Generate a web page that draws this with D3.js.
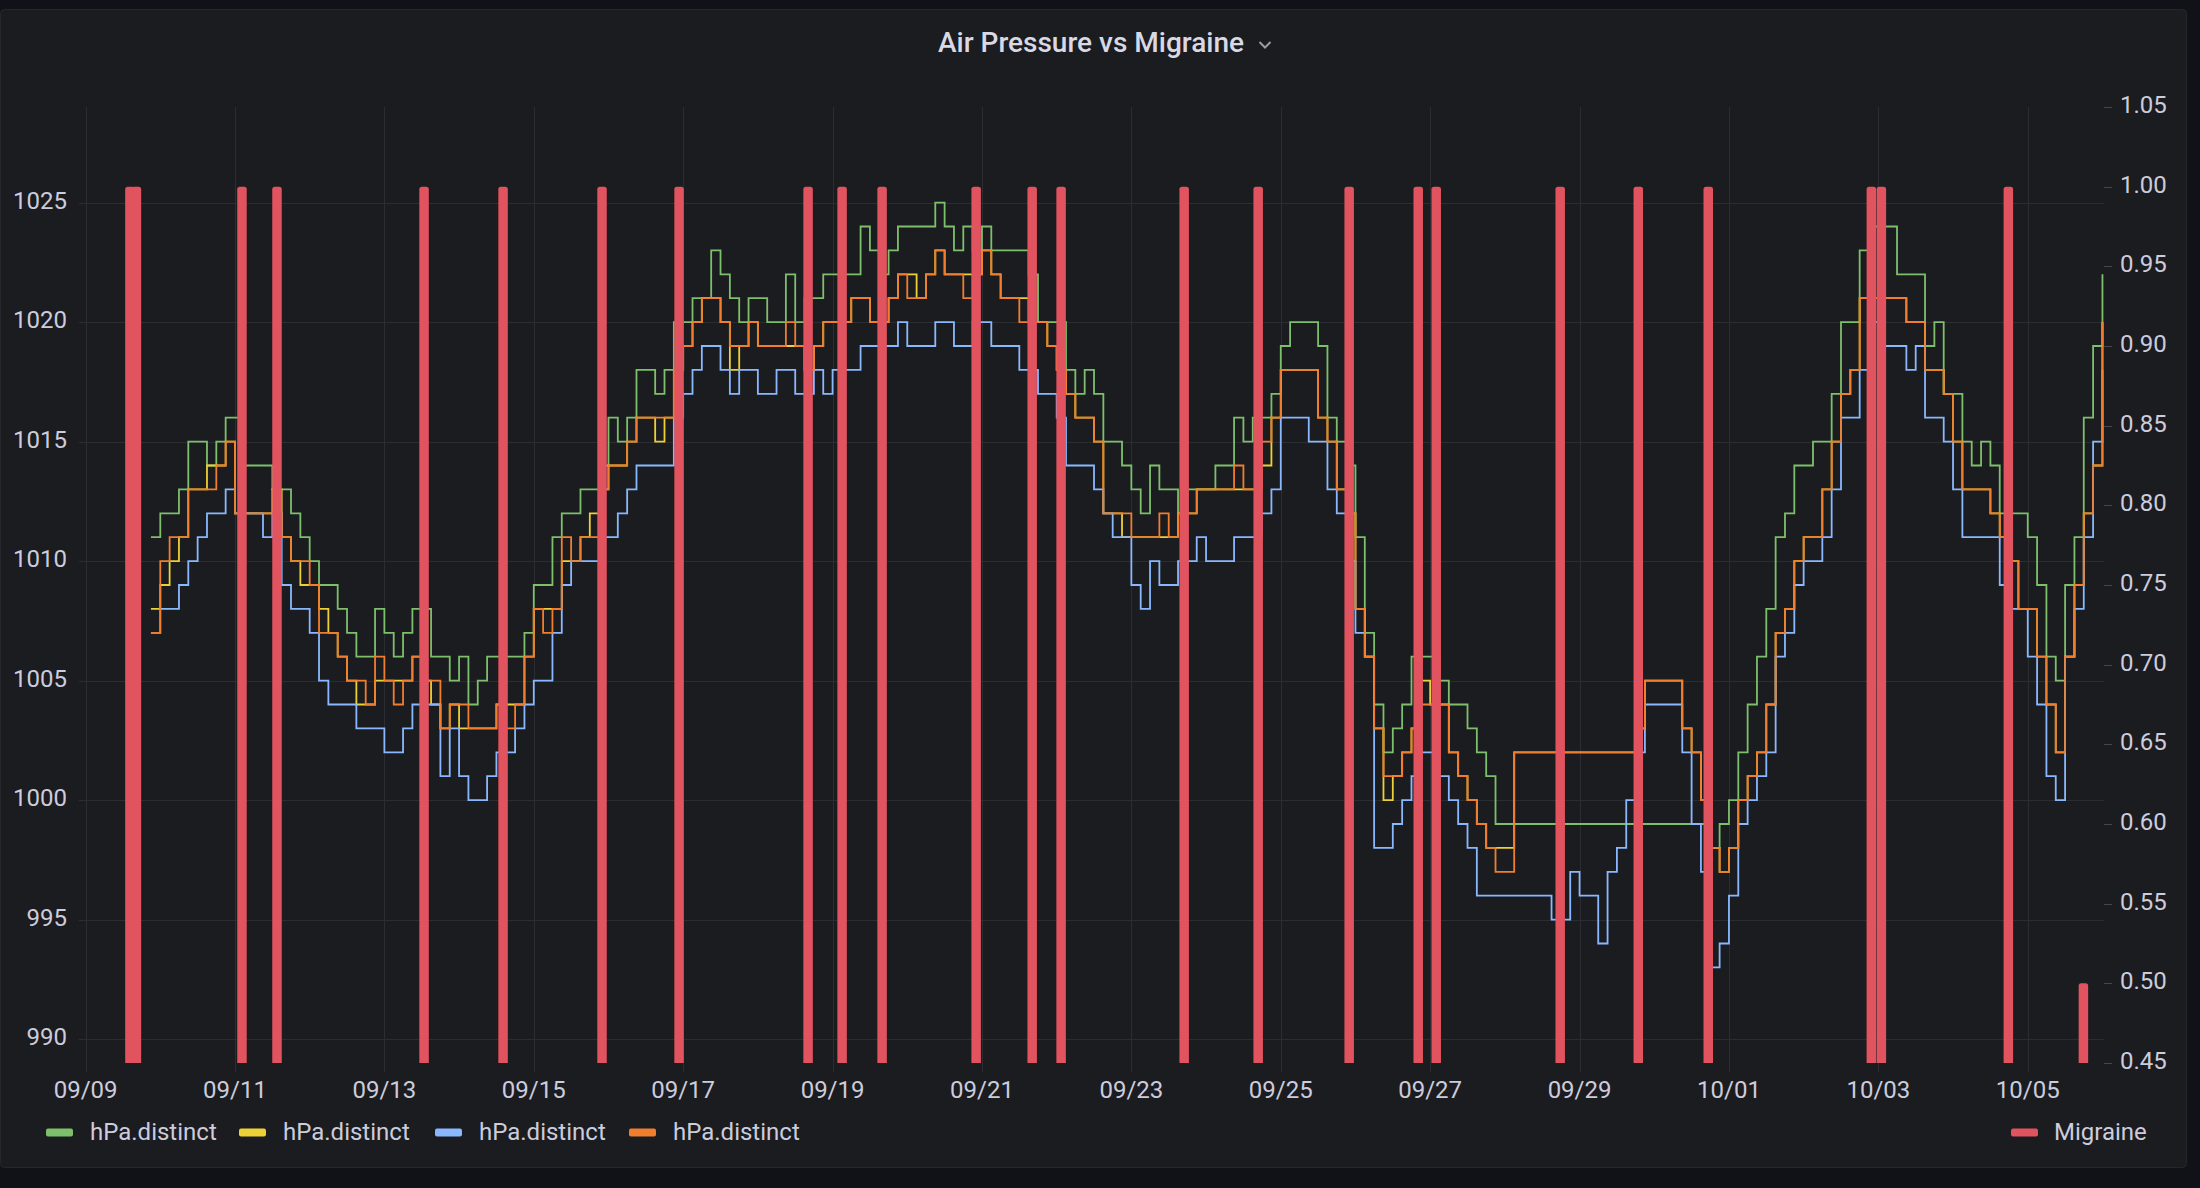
<!DOCTYPE html>
<html><head><meta charset="utf-8">
<script src="https://cdn.jsdelivr.net/npm/d3@7"></script>
<style>
html,body{margin:0;padding:0;background:#111217;overflow:hidden;}
svg{display:block;font-family:Roboto,"Noto Sans",sans-serif;}
</style></head><body>
<svg id="chart" width="2200" height="1188"></svg>
<script>
// ---------- data ----------
const chartTitle = "Air Pressure vs Migraine";
const seriesNames = ["hPa.distinct","hPa.distinct","hPa.distinct","hPa.distinct"];
const seriesColors = ["#7EBF6B","#EDCF36","#8AB8FF","#F07E2E"];
const migraineName = "Migraine";
const migraineColor = "#E0535F";

// pressure samples: every 3 hours from sampleStart
const sampleStart = "2023-09-09T21:00:00Z";
const sampleStepHours = 3;

const green = [
1011,1012,1012,1013,1015,1015,1014,1015,1016,1016,
1014,1014,1014,1013,1013,1012,1011,1010,1009,1009,
1008,1007,1006,1006,1008,1007,1006,1007,1008,1008,
1006,1006,1005,1006,1004,1005,1006,1006,1006,1006,
1007,1009,1009,1011,1012,1012,1013,1013,1014,1016,
1015,1016,1018,1018,1017,1018,1020,1020,1021,1021,
1023,1022,1021,1020,1021,1021,1020,1020,1022,1020,
1021,1021,1022,1022,1022,1022,1024,1023,1022,1023,
1024,1024,1024,1024,1025,1024,1023,1024,1023,1024,
1023,1023,1023,1023,1022,1020,1020,1020,1018,1017,
1018,1017,1015,1015,1014,1013,1012,1014,1013,1013,
1012,1013,1013,1013,1014,1014,1016,1015,1016,1016,
1017,1019,1020,1020,1020,1019,1016,1015,1014,1011,
1007,1004,1002,1003,1004,1006,1006,1006,1005,1004,
1004,1003,1002,1001,999,999,999,999,999,999,
999,999,999,999,999,999,999,999,999,999,
999,999,999,999,999,999,999,998,999,1000,
1002,1004,1006,1008,1011,1012,1014,1014,1015,1015,
1017,1020,1020,1023,1024,1024,1024,1022,1022,1022,
1019,1020,1017,1017,1015,1014,1015,1014,1012,1012,
1012,1011,1009,1006,1005,1009,1011,1016,1019,1022];

const yellow = [
1008,1009,1010,1011,1013,1013,1014,1014,1015,1012,
1012,1012,1012,1013,1011,1010,1009,1009,1008,1007,
1006,1005,1004,1004,1005,1005,1005,1005,1006,1005,
1004,1003,1004,1003,1003,1003,1003,1004,1004,1004,
1006,1008,1008,1008,1010,1010,1011,1012,1013,1014,
1014,1015,1016,1016,1015,1016,1018,1019,1020,1021,
1021,1020,1018,1019,1020,1019,1019,1019,1019,1019,
1018,1019,1020,1020,1020,1021,1021,1020,1020,1021,
1022,1022,1021,1022,1023,1022,1022,1022,1022,1023,
1022,1021,1021,1021,1020,1020,1019,1018,1017,1016,
1016,1015,1012,1012,1011,1011,1011,1011,1011,1011,
1012,1012,1013,1013,1013,1013,1013,1013,1013,1014,
1016,1018,1018,1018,1018,1016,1015,1013,1012,1008,
1006,1003,1000,1001,1002,1003,1005,1004,1004,1002,
1001,1000,999,998,998,998,1002,1002,1002,1002,
1002,1002,1002,1002,1002,1002,1002,1002,1002,1003,
1005,1005,1005,1005,1003,1002,1000,998,997,998,
1000,1001,1002,1004,1007,1008,1010,1011,1011,1013,
1015,1017,1018,1021,1021,1021,1021,1021,1020,1020,
1018,1018,1017,1015,1013,1013,1013,1012,1011,1010,
1008,1008,1006,1004,1002,1006,1009,1012,1014,1020];

const blue = [
1007,1008,1008,1009,1010,1011,1012,1012,1013,1012,
1012,1012,1011,1012,1009,1008,1008,1007,1005,1004,
1004,1004,1003,1003,1003,1002,1002,1003,1004,1004,
1004,1001,1003,1001,1000,1000,1001,1002,1002,1003,
1004,1005,1005,1007,1009,1010,1010,1010,1011,1011,
1012,1013,1014,1014,1014,1014,1016,1017,1018,1019,
1019,1018,1017,1018,1018,1017,1017,1018,1018,1017,
1017,1018,1017,1018,1018,1018,1019,1019,1019,1019,
1020,1019,1019,1019,1020,1020,1019,1019,1020,1020,
1019,1019,1019,1018,1018,1017,1017,1016,1014,1014,
1014,1013,1012,1011,1011,1009,1008,1010,1009,1009,
1010,1010,1011,1010,1010,1010,1011,1011,1011,1012,
1013,1016,1016,1016,1015,1015,1013,1012,1010,1007,
1006,998,998,999,1000,1001,1002,1002,1001,1000,
999,998,996,996,996,996,996,996,996,996,
995,995,997,996,996,994,997,998,1000,1002,
1004,1004,1004,1004,1002,999,997,993,994,996,
999,1000,1001,1002,1006,1007,1009,1010,1010,1011,
1013,1016,1016,1018,1020,1019,1019,1019,1018,1019,
1016,1016,1015,1013,1011,1011,1011,1011,1009,1008,
1008,1006,1004,1001,1000,1006,1008,1011,1015,1018];

const orange = [
1007,1010,1011,1011,1013,1013,1013,1014,1015,1012,
1012,1012,1012,1012,1011,1010,1010,1009,1007,1007,
1006,1005,1005,1004,1006,1005,1004,1005,1006,1005,
1005,1003,1004,1004,1003,1003,1003,1004,1003,1004,
1006,1008,1007,1008,1011,1010,1011,1011,1013,1014,
1014,1015,1016,1016,1016,1016,1018,1019,1020,1021,
1021,1020,1019,1019,1020,1019,1019,1019,1020,1019,
1018,1019,1020,1020,1020,1021,1021,1020,1020,1021,
1022,1021,1021,1022,1023,1022,1022,1021,1022,1023,
1022,1021,1021,1020,1020,1020,1019,1018,1017,1016,
1016,1015,1012,1012,1012,1011,1011,1011,1012,1011,
1012,1012,1013,1013,1013,1013,1014,1013,1013,1015,
1016,1018,1018,1018,1018,1016,1015,1013,1012,1008,
1006,1003,1001,1001,1002,1003,1004,1004,1004,1002,
1001,1000,999,998,997,997,1002,1002,1002,1002,
1002,1002,1002,1002,1002,1002,1002,1002,1002,1003,
1005,1005,1005,1005,1003,1002,1000,998,997,998,
1000,1001,1002,1004,1007,1008,1010,1011,1011,1013,
1015,1017,1018,1021,1021,1021,1021,1021,1020,1020,
1018,1018,1017,1015,1013,1013,1013,1012,1011,1010,
1008,1008,1006,1004,1002,1006,1009,1012,1014,1020];

const pressureSeries = [green, yellow, blue, orange];

// migraine events
const migraineTimes = [
"2023-09-09T14:15:00Z","2023-09-09T16:20:00Z","2023-09-11T02:15:00Z","2023-09-11T13:30:00Z",
"2023-09-13T12:45:00Z","2023-09-14T14:08:00Z","2023-09-15T21:56:00Z","2023-09-16T22:41:00Z",
"2023-09-18T16:08:00Z","2023-09-19T03:04:00Z","2023-09-19T15:55:00Z","2023-09-20T22:08:00Z",
"2023-09-21T16:08:00Z","2023-09-22T01:26:00Z","2023-09-23T16:58:00Z","2023-09-24T16:45:00Z",
"2023-09-25T21:59:00Z","2023-09-26T20:10:00Z","2023-09-27T01:57:00Z","2023-09-28T17:47:00Z",
"2023-09-29T18:52:00Z","2023-09-30T17:21:00Z","2023-10-02T21:45:00Z","2023-10-03T00:58:00Z",
"2023-10-04T17:46:00Z","2023-10-05T17:53:00Z"];
const migraineValues = [1,1,1,1,1,1,1,1,1,1,1,1,1,1,1,1,1,1,1,1,1,1,1,1,1,0.5];

const timeRange = ["2023-09-08T21:53:00Z","2023-10-06T00:30:00Z"];
const leftTicks = [990,995,1000,1005,1010,1015,1020,1025];
const rightTicks = [0.45,0.50,0.55,0.60,0.65,0.70,0.75,0.80,0.85,0.90,0.95,1.00,1.05];
const xTickDates = ["2023-09-09","2023-09-11","2023-09-13","2023-09-15","2023-09-17","2023-09-19","2023-09-21",
  "2023-09-23","2023-09-25","2023-09-27","2023-09-29","2023-10-01","2023-10-03","2023-10-05"];

// ---------- layout ----------
const W = 2200, H = 1188;
const plot = {left: 79, right: 2104, top: 107, bottom: 1063};
const textColor = "#ccccdc";
const gridColor = "#2c2d32";

const svg = d3.select("#chart");
svg.append("rect").attr("x",0).attr("y",0).attr("width",W).attr("height",H).attr("fill","#111217");
svg.append("rect").attr("x",0.5).attr("y",9.5).attr("width",2186).attr("height",1158).attr("rx",4)
  .attr("fill","#1b1c20").attr("stroke","#26272c").attr("stroke-width",1);

const x = d3.scaleUtc().domain(timeRange.map(d=>new Date(d))).range([plot.left, plot.right]);
const yL = d3.scaleLinear().domain([989, 1029]).range([plot.bottom, plot.top]);
const yR = d3.scaleLinear().domain([0.45, 1.05]).range([plot.bottom, plot.top]);

// grid
const grid = svg.append("g");
grid.selectAll("line.h").data(leftTicks).join("line")
  .attr("x1",plot.left).attr("x2",plot.right)
  .attr("y1",d=>Math.round(yL(d))+0.5).attr("y2",d=>Math.round(yL(d))+0.5)
  .attr("stroke",gridColor).attr("stroke-width",1);
const xTicks = xTickDates.map(d=>new Date(d+"T00:00:00Z"));
grid.selectAll("line.v").data(xTicks).join("line")
  .attr("x1",d=>Math.round(x(d))+0.5).attr("x2",d=>Math.round(x(d))+0.5)
  .attr("y1",plot.top).attr("y2",plot.bottom+9)
  .attr("stroke",gridColor).attr("stroke-width",1);

// clip
svg.append("clipPath").attr("id","plotclip").append("rect")
  .attr("x",plot.left).attr("y",plot.top).attr("width",plot.right-plot.left).attr("height",plot.bottom-plot.top);

// lines
const t0 = new Date(sampleStart);
const times = green.map((_,i)=>d3.utcHour.offset(t0, i*sampleStepHours));
const line = d3.line().curve(d3.curveStepAfter).x((d,i)=>x(times[i])).y(d=>yL(d));
const lg = svg.append("g").attr("clip-path","url(#plotclip)");
pressureSeries.forEach((s,si)=>{
  lg.append("path").attr("d", line(s)).attr("fill","none")
    .attr("stroke", seriesColors[si]).attr("stroke-width",1.8).attr("stroke-linejoin","miter");
});

// migraine bars
const barW = 9.5, rr = 2.5;
const bars = migraineTimes.map((t,i)=>({t:new Date(t), v:migraineValues[i]}));
lg.selectAll("path.bar").data(bars).join("path")
  .attr("fill", migraineColor)
  .attr("d", d=>{
    const cx = x(d.t), x0 = cx-barW/2, x1 = cx+barW/2, top = yR(d.v), b = plot.bottom;
    return `M${x0},${b}V${top+rr}Q${x0},${top} ${x0+rr},${top}H${x1-rr}Q${x1},${top} ${x1},${top+rr}V${b}Z`;
  });

// title
svg.append("text").attr("x",1091).attr("y",52).attr("text-anchor","middle")
  .attr("fill","#d8d9e4").attr("font-size",28).attr("font-weight",500).text(chartTitle);
svg.append("polyline").attr("points","1259.5,42 1265,47.5 1270.5,42")
  .attr("fill","none").attr("stroke","#9a9ba6").attr("stroke-width",2);

// left axis labels
svg.append("g").selectAll("text").data(leftTicks).join("text")
  .attr("x",67).attr("y",d=>yL(d)+6).attr("text-anchor","end")
  .attr("fill",textColor).attr("font-size",24).text(d=>d);

// right axis
const ra = svg.append("g");
ra.selectAll("line").data(rightTicks).join("line")
  .attr("x1",2104).attr("x2",2112).attr("y1",d=>Math.round(yR(d))+0.5).attr("y2",d=>Math.round(yR(d))+0.5)
  .attr("stroke","#45464c").attr("stroke-width",1);
ra.selectAll("text").data(rightTicks).join("text")
  .attr("x",2120).attr("y",d=>yR(d)+6)
  .attr("fill",textColor).attr("font-size",24).text(d=>d.toFixed(2));

// x axis labels
const fmt = d3.utcFormat("%m/%d");
svg.append("g").selectAll("text").data(xTicks).join("text")
  .attr("x",d=>x(d)).attr("y",1098).attr("text-anchor","middle")
  .attr("fill",textColor).attr("font-size",24).text(d=>fmt(d));

// legend
const legX = [46, 239, 435, 629];
const leg = svg.append("g");
seriesNames.forEach((n,i)=>{
  leg.append("rect").attr("x",legX[i]).attr("y",1128.5).attr("width",27).attr("height",8).attr("rx",2)
    .attr("fill",seriesColors[i]);
  leg.append("text").attr("x",legX[i]+44).attr("y",1140).attr("fill",textColor).attr("font-size",24).text(n);
});
leg.append("rect").attr("x",2011).attr("y",1128.5).attr("width",27).attr("height",8).attr("rx",2).attr("fill",migraineColor);
leg.append("text").attr("x",2054).attr("y",1140).attr("fill",textColor).attr("font-size",24).text(migraineName);
</script>
</body></html>
